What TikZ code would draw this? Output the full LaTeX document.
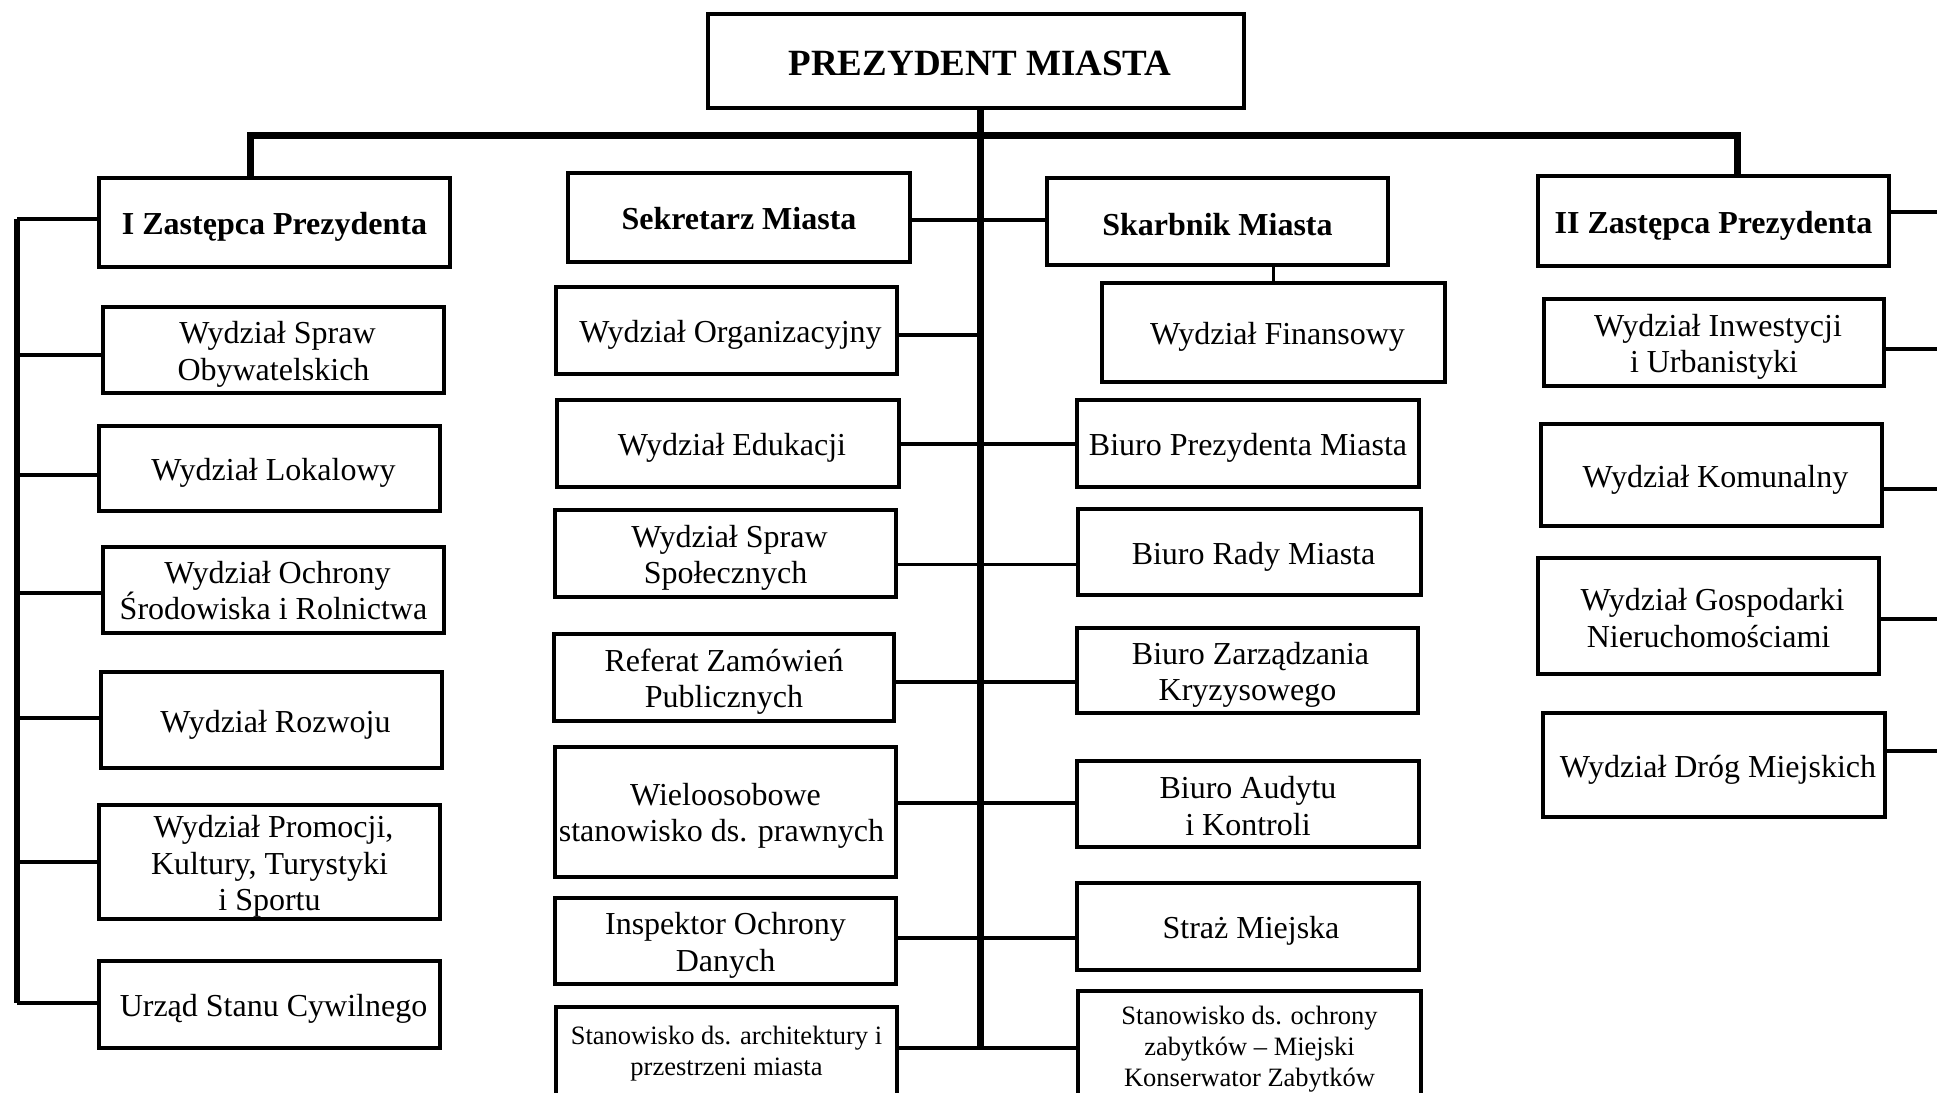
\documentclass[tikz,border=0pt]{standalone}
\usepackage{fontspec}
\setmainfont{Liberation Serif}
\newcommand\ls{\hspace*{8pt}}
\begin{document}
\begin{tikzpicture}[x=1pt,y=-1pt,
  frame/.style={draw, line width=3.5pt, inner sep=0pt},
  txt/.style={align=center, inner sep=0pt, font=\fontsize{32}{36.5}\selectfont},
  headtxt/.style={align=center, inner sep=0pt, font=\bfseries\fontsize{32}{36}\selectfont},
  smalltxt/.style={align=center, inner sep=0pt, font=\fontsize{26.5}{31}\selectfont},
  conn/.style={line width=3.5pt},
  barline/.style={line width=7pt, line join=miter},
  trunkline/.style={line width=7pt},
  bracketline/.style={line width=6pt}]
\useasboundingbox (0,0) rectangle (1937,1092);

% ---------- boxes ----------
% top level
\node[frame, minimum width=536pt, minimum height=94pt] (pres) at (976,61) {};
\node[frame, minimum width=351pt, minimum height=89pt] (zast1) at (274.5,222.5) {};
\node[frame, minimum width=342pt, minimum height=89pt] (sek) at (739,217.5) {};
\node[frame, minimum width=341pt, minimum height=87pt] (skarb) at (1217.5,221.5) {};
\node[frame, minimum width=351pt, minimum height=90pt] (zast2) at (1713.5,221) {};
% left column
\node[frame, minimum width=341pt, minimum height=86pt] (wso) at (273.5,350) {};
\node[frame, minimum width=341pt, minimum height=85pt] (wl) at (269.5,468.5) {};
\node[frame, minimum width=341pt, minimum height=86pt] (wos) at (273.5,590) {};
\node[frame, minimum width=341pt, minimum height=96pt] (wr) at (271.5,720) {};
\node[frame, minimum width=341pt, minimum height=114pt] (wp) at (269.5,862) {};
\node[frame, minimum width=341pt, minimum height=87pt] (usc) at (269.5,1004.5) {};
% middle-left column
\node[frame, minimum width=341pt, minimum height=87pt] (wo) at (726.5,330.5) {};
\node[frame, minimum width=342pt, minimum height=87pt] (we) at (728,443.5) {};
\node[frame, minimum width=341pt, minimum height=87pt] (wss) at (725.5,553.5) {};
\node[frame, minimum width=340pt, minimum height=87pt] (rzp) at (724,677.5) {};
\node[frame, minimum width=341pt, minimum height=130pt] (wsp) at (725.5,812) {};
\node[frame, minimum width=341pt, minimum height=86pt] (iod) at (725.5,941) {};
\node[frame, minimum width=341pt, minimum height=91pt] (sa) at (726.5,1052.5) {};
% middle-right column
\node[frame, minimum width=343pt, minimum height=99pt] (wf) at (1273.5,332.5) {};
\node[frame, minimum width=342pt, minimum height=87pt] (bpm) at (1248,443.5) {};
\node[frame, minimum width=343pt, minimum height=86pt] (brm) at (1249.5,552) {};
\node[frame, minimum width=341pt, minimum height=85pt] (bzk) at (1247.5,670.5) {};
\node[frame, minimum width=342pt, minimum height=86pt] (bak) at (1248,804) {};
\node[frame, minimum width=342pt, minimum height=87pt] (sm) at (1248,926.5) {};
\node[frame, minimum width=343pt, minimum height=111pt] (soz) at (1249.5,1046.5) {};
% right column
\node[frame, minimum width=340pt, minimum height=87pt] (wiu) at (1714,342.5) {};
\node[frame, minimum width=341pt, minimum height=102pt] (wk) at (1711.5,475) {};
\node[frame, minimum width=341pt, minimum height=116pt] (wgn) at (1708.5,616) {};
\node[frame, minimum width=342pt, minimum height=104pt] (wdm) at (1714,765) {};

% ---------- texts ----------
\node[headtxt, font=\bfseries\fontsize{37}{40}\selectfont] (pres-t) at ([yshift=-2.5pt]pres.center) {\hspace*{8pt}PREZYDENT MIASTA};
\node[headtxt] (zast1-t) at ([yshift=-4pt]zast1.center) {I Zastępca Prezydenta};
\node[headtxt] (sek-t) at ([yshift=-1.5pt]sek.center) {Sekretarz Miasta};
\node[headtxt] (skarb-t) at ([yshift=-3pt]skarb.center) {Skarbnik Miasta};
\node[headtxt] (zast2-t) at ([yshift=-4.5pt]zast2.center) {II Zastępca Prezydenta};

\node[txt] (wso-t) at ([yshift=-4.5pt]wso.center) {\ls Wydział Spraw\\Obywatelskich};
\node[txt] (wl-t) at ([yshift=-4pt]wl.center) {\ls Wydział Lokalowy};
\node[txt] (wos-t) at ([yshift=-0.5pt]wos.center) {\ls Wydział Ochrony\\Środowiska i Rolnictwa};
\node[txt] (wr-t) at ([yshift=-4.5pt]wr.center) {\ls Wydział Rozwoju};
\node[txt] (wp-t) at ([yshift=-4.5pt]wp.center) {\ls Wydział Promocji,\\Kultury, Turystyki\\i Sportu};
\node[txt] (usc-t) at ([yshift=-4pt]usc.center) {\ls Urząd Stanu Cywilnego};

\node[txt] (wo-t) at ([yshift=-4pt]wo.center) {\ls Wydział Organizacyjny};
\node[txt] (we-t) at ([yshift=-4pt]we.center) {\ls Wydział Edukacji};
\node[txt] (wss-t) at ([yshift=-4.3pt]wss.center) {\ls Wydział Spraw\\Społecznych};
\node[txt] (rzp-t) at ([yshift=-4.3pt]rzp.center) {Referat Zamówień\\Publicznych};
\node[txt] (wsp-t) at ([yshift=-4pt]wsp.center) {Wieloosobowe\\stanowisko ds. prawnych\hspace*{8pt}\mbox{}};
\node[txt] (iod-t) at ([yshift=-4.3pt]iod.center) {Inspektor Ochrony\\Danych};
\node[smalltxt] (sa-t) at ([yshift=-1.5pt]sa.center) {Stanowisko ds. architektury i\\przestrzeni miasta};

\node[txt] (wf-t) at ([yshift=-4.5pt]wf.center) {\ls Wydział Finansowy};
\node[txt] (bpm-t) at ([yshift=-4pt]bpm.center) {Biuro Prezydenta Miasta};
\node[txt] (brm-t) at ([yshift=-4.5pt]brm.center) {\ls Biuro Rady Miasta};
\node[txt] (bzk-t) at ([yshift=-4.3pt]bzk.center) {\hspace*{6pt}Biuro Zarządzania\\Kryzysowego};
\node[txt] (bak-t) at ([yshift=-2pt]bak.center) {Biuro Audytu\\i Kontroli};
\node[txt] (sm-t) at ([yshift=-4pt]sm.center) {\hspace*{6pt}Straż Miejska};
\node[smalltxt] (soz-t) at ([yshift=-2.5pt]soz.center) {Stanowisko ds. ochrony\\zabytków – Miejski\\Konserwator Zabytków};

\node[txt] (wiu-t) at ([yshift=-4.3pt]wiu.center) {\ls Wydział Inwestycji\\i Urbanistyki};
\node[txt] (wk-t) at ([yshift=-4.5pt]wk.center) {\ls Wydział Komunalny};
\node[txt] (wgn-t) at ([yshift=-2pt]wgn.center) {\ls Wydział Gospodarki\\Nieruchomościami};
\node[txt] (wdm-t) at ([yshift=-4.5pt]wdm.center) {\ls Wydział Dróg Miejskich};

% ---------- junction coordinates ----------
\coordinate (barL) at (250,135);
\coordinate (barR) at (1737,135);
\coordinate (tx) at (980,0);
\coordinate (j0) at (980,220);
\coordinate (j1) at (980,335);
\coordinate (j2) at (980,444);
\coordinate (j3) at (980,564.5);
\coordinate (j4) at (980,682);
\coordinate (j5) at (980,803);
\coordinate (j6) at (980,938);
\coordinate (j7) at (980,1048);
\coordinate (b1) at (17,219);
\coordinate (b2) at (17,355);
\coordinate (b3) at (17,475);
\coordinate (b4) at (17,593);
\coordinate (b5) at (17,718);
\coordinate (b6) at (17,862);
\coordinate (b7) at (17,1003);
\coordinate (r1) at (1945,212);
\coordinate (r2) at (1945,349);
\coordinate (r3) at (1945,489);
\coordinate (r4) at (1945,619);
\coordinate (r5) at (1945,751);

% ---------- connectors ----------
\draw[barline] (zast1.north -| barL) -- (barL) -- (barR) -- (zast2.north -| barR);
\draw[trunkline] (pres.south -| tx) -- (j7);

\draw[bracketline] (b1) -- (b7);
\draw[conn] (b1) -- (zast1.west |- b1);
\draw[conn] (b2) -- (wso.west |- b2);
\draw[conn] (b3) -- (wl.west |- b3);
\draw[conn] (b4) -- (wos.west |- b4);
\draw[conn] (b5) -- (wr.west |- b5);
\draw[conn] (b6) -- (wp.west |- b6);
\draw[conn] (b7) -- (usc.west |- b7);

\draw[conn] (sek.east |- j0) -- (skarb.west |- j0);
\draw[conn] (wo.east |- j1) -- (j1);
\draw[conn] (we.east |- j2) -- (bpm.west |- j2);
\draw[conn] (wss.east |- j3) -- (brm.west |- j3);
\draw[conn] (rzp.east |- j4) -- (bzk.west |- j4);
\draw[conn] (wsp.east |- j5) -- (bak.west |- j5);
\draw[conn] (iod.east |- j6) -- (sm.west |- j6);
\draw[conn] (sa.east |- j7) -- (soz.west |- j7);
\draw[conn] (skarb.south -| wf.north) -- (wf.north);

\draw[conn] (zast2.east |- r1) -- (r1);
\draw[conn] (wiu.east |- r2) -- (r2);
\draw[conn] (wk.east |- r3) -- (r3);
\draw[conn] (wgn.east |- r4) -- (r4);
\draw[conn] (wdm.east |- r5) -- (r5);
\end{tikzpicture}
\end{document}
